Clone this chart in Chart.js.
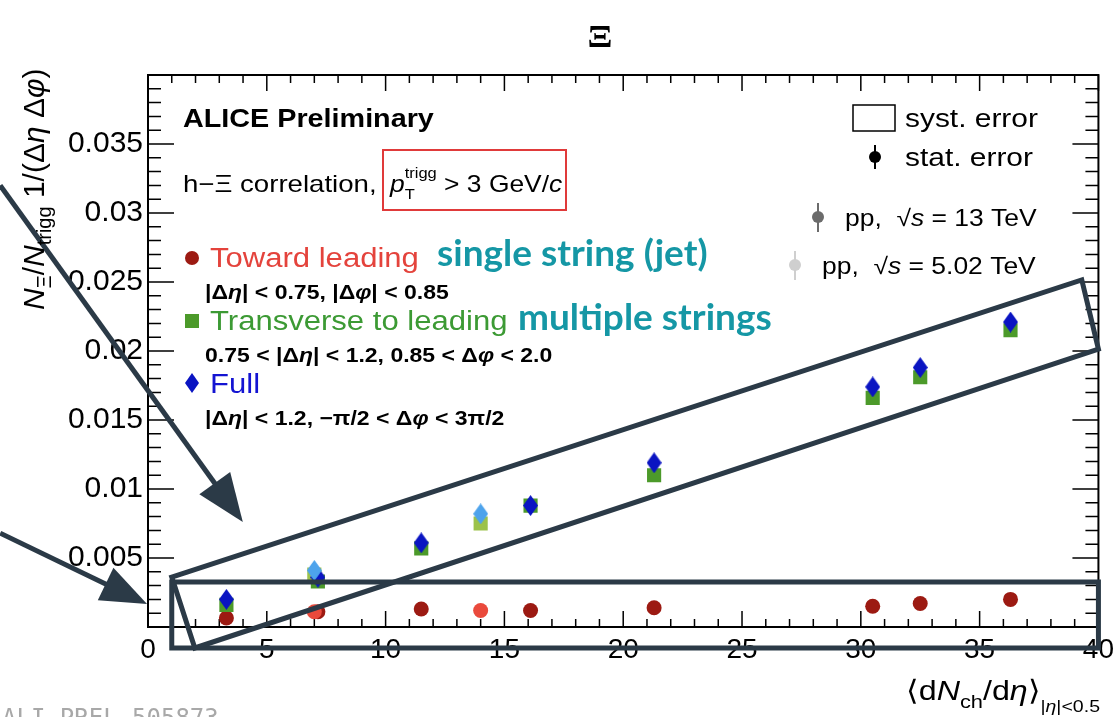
<!DOCTYPE html>
<html>
<head>
<meta charset="utf-8">
<script src="https://cdn.jsdelivr.net/npm/chart.js@4.4.1/dist/chart.umd.min.js"></script>
<style>
html, body { margin: 0; padding: 0; background: #fff; }
#wrap { width: 1120px; height: 717px; position: relative; }
</style>
</head>
<body>
<div id="wrap"><canvas id="xiChart" width="1120" height="717"></canvas></div>
<script>
// multiplicity bins, pp 13 TeV and pp 5.02 TeV
const mult13 = [3.3, 7.15, 11.5, 16.1, 21.3, 30.5, 32.5, 36.3];
const mult5 = [7.0, 14.0];

// per-trigger Xi yields
const toward13 = [0.00065, 0.0011, 0.0013, 0.0012, 0.0014, 0.0015, 0.0017, 0.0020];
const transverse13 = [0.0016, 0.0033, 0.0057, 0.0088, 0.0110, 0.0166, 0.0181, 0.0215];
const full13 = [0.0020, 0.0036, 0.0061, 0.0088, 0.0119, 0.0174, 0.0188, 0.0221];
const toward5 = [0.0011, 0.0012];
const transverse5 = [0.0038, 0.0075];
const full5 = [0.0041, 0.0082];

// axis ranges / ticks
const xRange = [0, 40];
const yRange = [0, 0.04];
const xStep = 5;
const yStep = 0.005;

// hand-drawn annotations (data coordinates)
const boxLow = [[1.0, 0.00326], [40, 0.00326], [40, -0.00152], [1.0, -0.00152]];
const boxTilted = [[1.0, 0.00362], [39.3, 0.02515], [40.0, 0.02014], [1.97, -0.00152]];
const arrowUpper = [[-6.22, 0.0320], [3.99, 0.0076]];
const arrowLower = [[-6.22, 0.0068], [-0.04, 0.00167]];

const SANS = "'Liberation Sans', Arial, sans-serif";
const ANNO = '#2b3a47';
const SX = 1.15; // the reference text runs a bit wide

function toPts(xs, ys) {
    return xs.map((v, i) => ({ x: v, y: ys[i] }));
}

function makeDiamond(color, w, h) {
    const c = document.createElement('canvas');
    c.width = w; c.height = h;
    const g = c.getContext('2d');
    g.fillStyle = color;
    g.beginPath();
    g.moveTo(w / 2, 0); g.lineTo(w, h / 2); g.lineTo(w / 2, h); g.lineTo(0, h / 2);
    g.closePath();
    g.fill();
    return c;
}

// draw a run of text pieces (sub/superscripts, italics), optionally stretched in x
function drawRich(ctx, x, y, parts, align, sx) {
    sx = sx || 1;
    let prevStart = 0, cur = 0;
    parts.forEach(p => {
        ctx.font = (p.i ? 'italic ' : '') + (p.b ? 'bold ' : '') + p.s + 'px ' + (p.f || SANS);
        p.w = ctx.measureText(p.t).width;
        if (p.stack) {
            p.off = prevStart;
            cur = Math.max(cur, prevStart + p.w);
        } else {
            p.off = cur;
            prevStart = cur;
            cur += p.w;
        }
    });
    const total = cur * sx;
    const x0 = align === 'right' ? x - total : align === 'center' ? x - total / 2 : x;
    ctx.save();
    ctx.translate(x0, y);
    ctx.scale(sx, 1);
    parts.forEach(p => {
        ctx.font = (p.i ? 'italic ' : '') + (p.b ? 'bold ' : '') + p.s + 'px ' + (p.f || SANS);
        ctx.fillStyle = p.c || '#000';
        ctx.fillText(p.t, p.off, p.dy || 0);
    });
    ctx.restore();
    return total;
}

function drawFrame(chart) {
    const { ctx, chartArea: a, scales: { x, y } } = chart;
    ctx.save();
    ctx.strokeStyle = '#000';
    ctx.lineWidth = 1.5;
    ctx.beginPath();
    for (let v = xRange[0]; v <= xRange[1] + 1e-9; v += 1) {
        const px = x.getPixelForValue(v);
        const len = Math.round(v) % xStep === 0 ? 16 : 8;
        ctx.moveTo(px, a.bottom); ctx.lineTo(px, a.bottom - len);
        ctx.moveTo(px, a.top); ctx.lineTo(px, a.top + len);
    }
    for (let i = 0; i <= 40; i++) {
        const py = y.getPixelForValue(i * 0.001);
        const len = i % 5 === 0 ? 26 : 13;
        ctx.moveTo(a.left, py); ctx.lineTo(a.left + len, py);
        ctx.moveTo(a.right, py); ctx.lineTo(a.right - len, py);
    }
    ctx.stroke();
    ctx.lineWidth = 2;
    ctx.strokeRect(a.left, a.top, a.right - a.left, a.bottom - a.top);
    ctx.restore();
}

function polyPx(chart, pts) {
    const { x, y } = chart.scales;
    return pts.map(p => [x.getPixelForValue(p[0]), y.getPixelForValue(p[1])]);
}

function drawArrow(ctx, p0, p1, headLen, headHalf) {
    const dx = p1[0] - p0[0], dy = p1[1] - p0[1];
    const L = Math.hypot(dx, dy), ux = dx / L, uy = dy / L;
    const bx = p1[0] - ux * headLen, by = p1[1] - uy * headLen;
    ctx.beginPath();
    ctx.moveTo(p0[0], p0[1]); ctx.lineTo(bx + ux * 4, by + uy * 4);
    ctx.stroke();
    ctx.beginPath();
    ctx.moveTo(p1[0], p1[1]);
    ctx.lineTo(bx - uy * headHalf, by + ux * headHalf);
    ctx.lineTo(bx + uy * headHalf, by - ux * headHalf);
    ctx.closePath();
    ctx.fill();
}

function drawAnnotations(chart) {
    const ctx = chart.ctx;
    ctx.save();
    ctx.strokeStyle = ANNO;
    ctx.fillStyle = ANNO;
    ctx.lineWidth = 5;
    ctx.lineJoin = 'miter';
    [boxLow, boxTilted].forEach(b => {
        const q = polyPx(chart, b);
        ctx.beginPath();
        ctx.moveTo(q[0][0], q[0][1]);
        q.slice(1).forEach(p => ctx.lineTo(p[0], p[1]));
        ctx.closePath();
        ctx.stroke();
    });
    const au = polyPx(chart, arrowUpper), al = polyPx(chart, arrowLower);
    drawArrow(ctx, au[0], au[1], 48, 19);
    drawArrow(ctx, al[0], al[1], 46, 18);
    ctx.restore();
}

function drawTexts(chart) {
    const ctx = chart.ctx;
    ctx.save();
    ctx.textBaseline = 'alphabetic';

    // panel title
    drawRich(ctx, 600, 47, [{ t: '\u039E', s: 32, b: true, f: "'Liberation Serif', serif" }], 'center', SX);

    // axis titles
    drawRich(ctx, 1100, 700, [
        { t: '\u27E8d', s: 28 }, { t: 'N', s: 28, i: true }, { t: 'ch', s: 19, dy: 8 },
        { t: '/d', s: 28 }, { t: '\u03B7', s: 28, i: true }, { t: '\u27E9', s: 28 },
        { t: '|', s: 17, dy: 12 }, { t: '\u03B7', s: 17, dy: 12, i: true }, { t: '|<0.5', s: 17, dy: 12 }
    ], 'right', SX);

    ctx.save();
    ctx.translate(44, 310);
    ctx.rotate(-Math.PI / 2);
    drawRich(ctx, 0, 0, [
        { t: 'N', s: 30, i: true }, { t: '\u039E', s: 20, dy: 7 }, { t: '/', s: 30 },
        { t: 'N', s: 30, i: true }, { t: 'trigg', s: 20, dy: 7 }, { t: ' 1/(\u0394', s: 30 },
        { t: '\u03B7', s: 30, i: true }, { t: ' \u0394', s: 30 }, { t: '\u03C6', s: 30, i: true },
        { t: ')', s: 30 }
    ], 'left');
    ctx.restore();

    // left block
    drawRich(ctx, 183, 127, [{ t: 'ALICE Preliminary', s: 25, b: true }], 'left', SX);
    drawRich(ctx, 183, 192, [{ t: 'h\u2212\u039E correlation,', s: 24 }], 'left', SX);
    drawRich(ctx, 390, 192, [
        { t: 'p', s: 24, i: true }, { t: 'T', s: 15, dy: 7 },
        { t: 'trigg', s: 15, dy: -14, stack: true }, { t: ' > 3 GeV/', s: 24 }, { t: 'c', s: 24, i: true }
    ], 'left', 1.1);
    ctx.strokeStyle = '#e03a3a';
    ctx.lineWidth = 2;
    ctx.strokeRect(383, 150, 183, 60);

    drawRich(ctx, 210, 267, [{ t: 'Toward leading', s: 27, c: '#e4433c' }], 'left', SX);
    drawRich(ctx, 437, 266, [{ t: 'single string (jet)', s: 37, b: true, f: "Lato, sans-serif", c: '#1597a5' }], 'left');
    drawRich(ctx, 205, 299, [
        { t: '|\u0394', s: 20, b: true }, { t: '\u03B7', s: 20, b: true, i: true },
        { t: '| < 0.75, |\u0394', s: 20, b: true }, { t: '\u03C6', s: 20, b: true, i: true },
        { t: '| < 0.85', s: 20, b: true }
    ], 'left', SX);
    drawRich(ctx, 210, 330, [{ t: 'Transverse to leading', s: 27, c: '#3c9a34' }], 'left', SX);
    drawRich(ctx, 518, 330, [{ t: 'multiple strings', s: 37, b: true, f: "Lato, sans-serif", c: '#1597a5' }], 'left');
    drawRich(ctx, 205, 362, [
        { t: '0.75 < |\u0394', s: 20, b: true }, { t: '\u03B7', s: 20, b: true, i: true },
        { t: '| < 1.2, 0.85 < \u0394', s: 20, b: true }, { t: '\u03C6', s: 20, b: true, i: true },
        { t: ' < 2.0', s: 20, b: true }
    ], 'left', SX);
    drawRich(ctx, 210, 393, [{ t: 'Full', s: 27, c: '#1414d2' }], 'left', SX);
    drawRich(ctx, 205, 425, [
        { t: '|\u0394', s: 20, b: true }, { t: '\u03B7', s: 20, b: true, i: true },
        { t: '| < 1.2, \u2212\u03C0/2 < \u0394', s: 20, b: true }, { t: '\u03C6', s: 20, b: true, i: true },
        { t: ' < 3\u03C0/2', s: 20, b: true }
    ], 'left', SX);

    // legend markers, left block
    ctx.fillStyle = '#9c1a12';
    ctx.beginPath(); ctx.arc(192, 258, 7, 0, Math.PI * 2); ctx.fill();
    ctx.fillStyle = '#4c9a2a';
    ctx.fillRect(185, 314, 14, 14);
    ctx.drawImage(makeDiamond('#0a14c2', 14, 20), 185, 373);

    // right legend
    ctx.strokeStyle = '#000';
    ctx.lineWidth = 1.5;
    ctx.strokeRect(853, 105, 42, 26);
    drawRich(ctx, 905, 127, [{ t: 'syst. error', s: 26 }], 'left', SX);
    ctx.fillStyle = '#000';
    ctx.fillRect(874, 145, 2, 24);
    ctx.beginPath(); ctx.arc(875, 157, 6, 0, Math.PI * 2); ctx.fill();
    drawRich(ctx, 905, 166, [{ t: 'stat. error', s: 26 }], 'left', SX);

    ctx.fillStyle = '#6b6b6b';
    ctx.fillRect(817, 203, 2, 29);
    ctx.beginPath(); ctx.arc(818, 217, 6, 0, Math.PI * 2); ctx.fill();
    drawRich(ctx, 845, 226, [
        { t: 'pp,  \u221A', s: 23 }, { t: 's', s: 23, i: true }, { t: ' = 13 TeV', s: 23 }
    ], 'left', SX);
    ctx.fillStyle = '#cfcfcf';
    ctx.fillRect(794, 251, 2, 29);
    ctx.beginPath(); ctx.arc(795, 265, 6, 0, Math.PI * 2); ctx.fill();
    drawRich(ctx, 822, 274, [
        { t: 'pp,  \u221A', s: 23 }, { t: 's', s: 23, i: true }, { t: ' = 5.02 TeV', s: 23 }
    ], 'left', SX);

    // figure id, mostly cut off at the bottom edge
    drawRich(ctx, 2, 726, [{ t: 'ALI-PREL-505873', s: 24, f: "'DejaVu Sans Mono', monospace", c: '#a8a8a8' }], 'left');
    ctx.restore();
}

const overlayPlugin = {
    id: 'overlay',
    beforeDatasetsDraw(chart) { drawFrame(chart); },
    afterDraw(chart) {
        drawAnnotations(chart);
        drawTexts(chart);
    }
};

function initializeChart() {
    const canvas = document.getElementById('xiChart');
    if (!canvas) {
        console.error('xiChart canvas not found');
        return;
    }
    const ctx = canvas.getContext('2d');

    const blueDia = makeDiamond('#0a14c2', 15, 21);
    const lightBlueDia = makeDiamond('#4da3ec', 15, 21);

    new Chart(ctx, {
        type: 'scatter',
        data: {
            datasets: [
                { label: 'Full 5.02', data: toPts(mult5, full5), pointStyle: lightBlueDia, order: 0 },
                { label: 'Full 13', data: toPts(mult13, full13), pointStyle: blueDia, order: 1 },
                { label: 'Transverse 5.02', data: toPts(mult5, transverse5), pointStyle: 'rect', pointRadius: 10,
                  backgroundColor: '#9cc24a', borderWidth: 0, order: 2 },
                { label: 'Transverse 13', data: toPts(mult13, transverse13), pointStyle: 'rect', pointRadius: 10,
                  backgroundColor: '#4c9a2a', borderWidth: 0, order: 3 },
                { label: 'Toward 5.02', data: toPts(mult5, toward5), pointStyle: 'circle', pointRadius: 7.5,
                  backgroundColor: '#ea4a3c', borderWidth: 0, order: 4 },
                { label: 'Toward 13', data: toPts(mult13, toward13), pointStyle: 'circle', pointRadius: 7.5,
                  backgroundColor: '#9c1a12', borderWidth: 0, order: 5 }
            ]
        },
        options: {
            responsive: false,
            animation: false,
            devicePixelRatio: 1,
            layout: { padding: { left: 0, right: 20, top: 75, bottom: 0 } },
            scales: {
                x: {
                    type: 'linear',
                    min: xRange[0],
                    max: xRange[1],
                    grid: { display: false, drawTicks: false },
                    border: { display: false },
                    ticks: {
                        stepSize: xStep,
                        padding: 6,
                        color: '#000',
                        font: { family: SANS, size: 28 },
                        maxRotation: 0
                    },
                    afterFit: s => { s.height = 90; }
                },
                y: {
                    type: 'linear',
                    min: yRange[0],
                    max: yRange[1],
                    grid: { display: false, drawTicks: false },
                    border: { display: false },
                    ticks: {
                        stepSize: yStep,
                        padding: 5,
                        color: '#000',
                        font: { family: SANS, size: 30 },
                        callback: v => (v <= 0 || v >= yRange[1] - 1e-9) ? '' : String(parseFloat(v.toFixed(3)))
                    },
                    afterFit: s => { s.width = 148; }
                }
            },
            plugins: {
                legend: { display: false },
                tooltip: { enabled: false },
                title: { display: false }
            }
        },
        plugins: [overlayPlugin]
    });
}

initializeChart();
</script>
</body>
</html>
